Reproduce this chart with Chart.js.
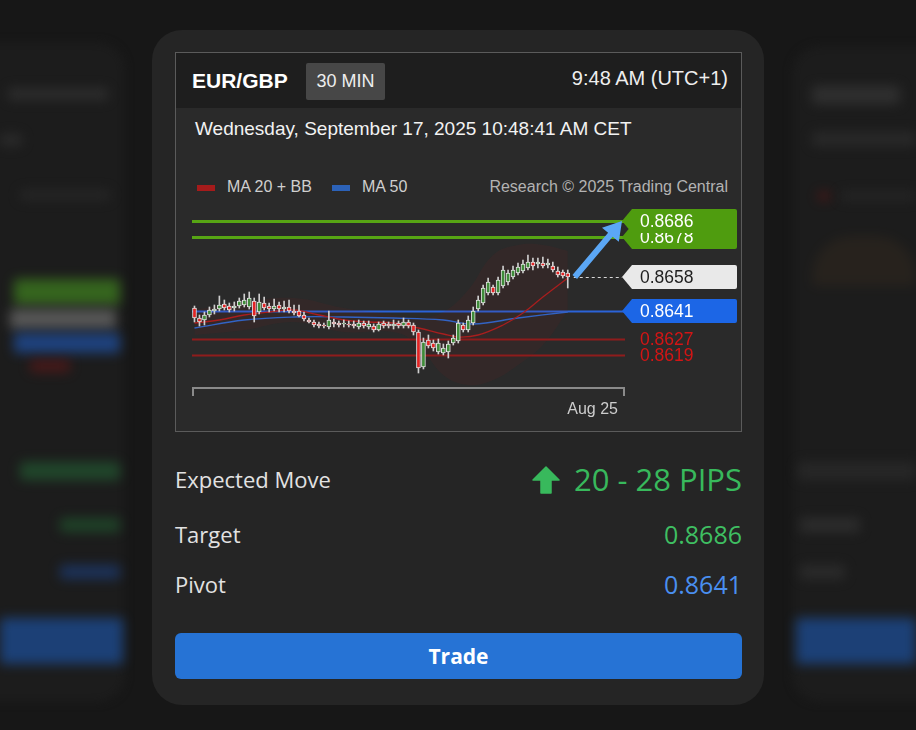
<!DOCTYPE html>
<html><head><meta charset="utf-8">
<script src="https://cdn.jsdelivr.net/npm/chart.js@4.4.1/dist/chart.umd.min.js"></script>
<style>
html,body{margin:0;padding:0;}
body{width:916px;height:730px;background:#171717;position:relative;overflow:hidden;font-family:"Liberation Sans",Arial,sans-serif;}
.abs{position:absolute;white-space:nowrap;}
.side{background:#1c1c1c;border-radius:28px;filter:blur(4px);}
.bl{position:absolute;filter:blur(6px);border-radius:3px;opacity:0.75;}
#card{left:152px;top:30px;width:612px;height:675px;border-radius:30px;background:#252525;}
#frame{left:175px;top:52px;width:567px;height:380px;box-sizing:border-box;border:1px solid #5b5b5b;background:#2a2a2a;}
#head{left:176px;top:53px;width:565px;height:55px;background:#1e1e1e;}
.os{font-family:"Open Sans","Noto Sans",sans-serif;}
</style></head>
<body>
<!-- blurred neighbour cards -->
<div class="abs side" style="left:-60px;top:42px;width:185px;height:660px;"></div>
<div class="bl" style="left:8px;top:88px;width:100px;height:12px;background:#333"></div>
<div class="bl" style="left:0px;top:134px;width:22px;height:12px;background:#303030"></div>
<div class="bl" style="left:20px;top:190px;width:90px;height:10px;background:#2a2a2a"></div>
<div class="bl" style="left:14px;top:279px;width:106px;height:26px;background:#3e7d1f"></div>
<div class="bl" style="left:10px;top:309px;width:106px;height:20px;background:#6a6a6a"></div>
<div class="bl" style="left:14px;top:333px;width:106px;height:20px;background:#1f4f9f"></div>
<div class="bl" style="left:30px;top:360px;width:40px;height:12px;background:#5a1818"></div>
<div class="bl" style="left:20px;top:462px;width:100px;height:18px;background:#225530"></div>
<div class="bl" style="left:60px;top:518px;width:60px;height:14px;background:#20502c"></div>
<div class="bl" style="left:60px;top:565px;width:60px;height:14px;background:#1c3a70"></div>
<div class="bl" style="left:0px;top:618px;width:123px;height:46px;background:#1c4d95"></div>

<div class="abs side" style="left:792px;top:46px;width:180px;height:656px;"></div>
<div class="bl" style="left:812px;top:86px;width:88px;height:18px;background:#363636"></div>
<div class="bl" style="left:812px;top:132px;width:104px;height:14px;background:#2e2e2e"></div>
<div class="bl" style="left:818px;top:192px;width:12px;height:8px;background:#5a1515"></div>
<div class="bl" style="left:840px;top:192px;width:76px;height:8px;background:#2a2a2a"></div>
<div class="bl" style="left:812px;top:236px;width:104px;height:50px;background:rgba(110,80,40,0.18);border-radius:40px 40px 0 0;"></div>
<div class="bl" style="left:798px;top:462px;width:118px;height:18px;background:#2b2b2b"></div>
<div class="bl" style="left:800px;top:518px;width:60px;height:14px;background:#333"></div>
<div class="bl" style="left:800px;top:565px;width:45px;height:14px;background:#303030"></div>
<div class="bl" style="left:796px;top:618px;width:120px;height:46px;background:#1c4d95"></div>

<div class="abs" id="card"></div>
<div class="abs" id="frame"></div>
<div class="abs" id="head"></div>

<div class="abs" style="left:192px;top:69px;font-size:21px;line-height:24px;font-weight:bold;color:#fff;">EUR/GBP</div>
<div class="abs" style="left:306px;top:63px;width:79px;height:37px;background:#474747;border-radius:2px;color:#eee;font-size:18px;line-height:37px;text-align:center;">30 MIN</div>
<div class="abs" style="right:188px;top:66px;font-size:20px;line-height:24px;color:#eee;">9:48 AM (UTC+1)</div>
<div class="abs" style="left:195px;top:117px;font-size:19px;line-height:24px;color:#f2f2f2;">Wednesday, September 17, 2025 10:48:41 AM CET</div>

<div class="abs" style="left:197px;top:185px;width:18px;height:6px;background:#a51b1b;"></div>
<div class="abs" style="left:227px;top:177px;font-size:16px;line-height:20px;color:#cfcfcf;">MA 20 + BB</div>
<div class="abs" style="left:332px;top:185px;width:18px;height:6px;background:#2c62b8;"></div>
<div class="abs" style="left:362px;top:177px;font-size:16px;line-height:20px;color:#cfcfcf;">MA 50</div>
<div class="abs" style="right:188px;top:177px;font-size:16px;line-height:20px;color:#b3b3b3;">Research © 2025 Trading Central</div>

<canvas id="c" class="abs" width="567" height="323" style="left:175px;top:108px;width:567px;height:323px;"></canvas>

<div class="abs os" style="left:175px;top:464px;font-size:22px;line-height:30px;color:#e2e2e2;">Expected Move</div>
<svg class="abs" style="left:531px;top:466px;" width="30" height="28" viewBox="0 0 30 28"><path d="M15 1 L28 14 L20 14 L20 27 L10 27 L10 14 L2 14 Z" fill="#38b95c" stroke="#38b95c" stroke-width="1.5" stroke-linejoin="round"/></svg>
<div class="abs os" style="right:174px;top:459px;font-size:31px;line-height:40px;font-weight:500;color:#38b95c;">20 - 28 PIPS</div>
<div class="abs os" style="left:175px;top:519px;font-size:22px;line-height:30px;color:#e2e2e2;">Target</div>
<div class="abs os" style="right:174px;top:517px;font-size:25px;line-height:34px;color:#3fbf62;">0.8686</div>
<div class="abs os" style="left:175px;top:569px;font-size:22px;line-height:30px;color:#e2e2e2;">Pivot</div>
<div class="abs os" style="right:174px;top:567px;font-size:25px;line-height:34px;color:#4a8ff0;">0.8641</div>
<div class="abs os" style="left:175px;top:633px;width:567px;height:46px;border-radius:6px;background:#2673d5;color:#fff;font-weight:bold;font-size:21px;line-height:46px;text-align:center;">Trade</div>

<script>
// ---- data ----
const slotCount = 87;
const dateTickIndex = [80];
const dateTickText = ['Aug 25'];
const opens = [
 0.86425,0.86375,0.86365,0.8639,0.8641,0.8642,0.86445,0.86435,0.86425,0.86435,
 0.8644,0.8643,0.8646,0.86405,0.8645,0.86435,0.8642,0.8644,0.8642,0.8643,
 0.8641,0.8641,0.8639,0.86365,0.86355,0.86345,0.8634,0.8633,0.86355,0.8635,
 0.86345,0.86345,0.86345,0.8633,0.8635,0.8633,0.86335,0.86315,0.8635,0.86345,
 0.86335,0.8635,0.86335,0.86355,0.8634,0.86305,0.8613,0.86265,0.8625,0.86205,
 0.862,0.86205,0.8625,0.8626,0.8634,0.86315,0.8635,0.8642,0.8645,0.865,
 0.8653,0.865,0.86535,0.86555,0.8658,0.866,0.8661,0.86625,0.86655,0.86645,
 0.8665,0.8664,0.86635,0.8661,0.86605,0.866];
const highs = [
 0.86435,0.8639,0.86405,0.8643,0.8644,0.86485,0.86465,0.8645,0.86455,0.86475,
 0.86495,0.86505,0.86475,0.86495,0.8648,0.8645,0.8647,0.86455,0.8646,0.86465,
 0.8644,0.8644,0.86405,0.86375,0.86365,0.86355,0.8635,0.8641,0.8637,0.8636,
 0.86365,0.8636,0.8636,0.86365,0.8636,0.8636,0.86345,0.86355,0.8636,0.86355,
 0.86365,0.8636,0.86375,0.86365,0.8635,0.86315,0.86275,0.8629,0.86265,0.8627,
 0.86245,0.8626,0.8629,0.86365,0.8635,0.86385,0.8643,0.86485,0.8654,0.86575,
 0.8654,0.8658,0.86635,0.86615,0.86635,0.8665,0.86665,0.8669,0.86675,0.86675,
 0.8668,0.8667,0.86655,0.8663,0.86615,0.86615];
const lows = [
 0.86355,0.86335,0.8634,0.8638,0.86395,0.8641,0.86415,0.86405,0.8641,0.86425,
 0.8643,0.8642,0.86355,0.86395,0.86415,0.86405,0.8641,0.86405,0.86405,0.864,
 0.8639,0.8638,0.8636,0.8635,0.8633,0.86325,0.86325,0.8632,0.8633,0.8633,
 0.8633,0.8633,0.86325,0.8632,0.86325,0.8632,0.86305,0.8631,0.86325,0.86325,
 0.8632,0.86325,0.86325,0.86325,0.8629,0.861,0.8612,0.86225,0.8621,0.86195,
 0.8619,0.86175,0.8624,0.8625,0.86305,0.86305,0.8634,0.8641,0.8644,0.8649,
 0.8649,0.8649,0.86525,0.8654,0.8657,0.8659,0.866,0.86615,0.86615,0.86625,
 0.86625,0.86625,0.86605,0.8658,0.86575,0.86525];
const closes = [
 0.86375,0.86355,0.8639,0.86415,0.8642,0.8644,0.86425,0.86415,0.86435,0.8646,
 0.86465,0.86475,0.86385,0.86455,0.86425,0.8642,0.86435,0.8642,0.8643,0.8641,
 0.864,0.86385,0.8637,0.86355,0.8634,0.86335,0.86335,0.86365,0.86345,0.8634,
 0.8635,0.8634,0.86335,0.8635,0.86335,0.86345,0.86315,0.86345,0.86335,0.86335,
 0.86345,0.86335,0.86355,0.86335,0.86305,0.86125,0.86255,0.86235,0.86225,0.8625,
 0.86225,0.86245,0.86275,0.8635,0.86315,0.86365,0.8641,0.86465,0.86525,0.86555,
 0.865,0.86565,0.86615,0.866,0.86615,0.8663,0.86645,0.86655,0.86635,0.86655,
 0.86635,0.8665,0.86615,0.8659,0.86585,0.8658];
const ma50Idx = [0,10,20,30,40,50,56,65,75];
const ma50Val = [0.86325,0.86365,0.8638,0.8638,0.86375,0.86365,0.86345,0.86375,0.86405];
const ma20Idx = [0,5,10,15,20,25,30,35,40,45,50,53,57,62,66,70,75];
const ma20Val = [0.8635,0.86365,0.8639,0.86405,0.86415,0.8639,0.86365,0.86355,0.8635,0.86325,0.86295,0.8628,0.8629,0.8634,0.864,0.8648,0.86575];
const bbIdx = [0,10,20,30,40,45,50,55,60,65,70,75];
const bbUpper = [0.86415,0.86455,0.86475,0.86425,0.8639,0.86375,0.86405,0.86515,0.8669,0.8674,0.8674,0.8671];
const bbLower = [0.8629,0.86315,0.86355,0.86305,0.86305,0.8624,0.8609,0.8604,0.86065,0.8614,0.8624,0.8641];
const levelValues = [0.8686, 0.8678, 0.8658, 0.8641, 0.8627, 0.8619];
const levelTexts = ['0.8686', '0.8678', '0.8658', '0.8641', '0.8627', '0.8619'];
const levelRoles = ['target', 'target', 'last', 'pivot', 'support', 'support'];

// ---- build ----
const labels = Array.from({length: slotCount}, (_, i) => i);
const sparse = (idx, vals) => { const a = labels.map(() => null); idx.forEach((k, j) => { a[k] = vals[j]; }); return a; };
const isUp = closes.map((c, i) => c >= opens[i]);

const levelStyle = {
  target: {line: '#57a514', tag: '#4f9c0f', text: '#ffffff', width: 3},
  last: {tag: '#e9e9e9', text: '#1e1e1e'},
  pivot: {line: '#2b63d8', tag: '#1c66e6', text: '#ffffff', width: 2},
  support: {line: '#8f1c1c', text: '#d31515', width: 2}
};

const overlay = {
  id: 'overlay',
  beforeDatasetsDraw(chart) {
    const {ctx, chartArea: a, scales: {y}} = chart;
    ctx.save();
    levelValues.forEach((v, i) => {
      const st = levelStyle[levelRoles[i]];
      if (!st.line) return;
      const py = Math.round(y.getPixelForValue(v)) + 0.5;
      ctx.strokeStyle = st.line; ctx.lineWidth = st.width;
      ctx.beginPath(); ctx.moveTo(a.left, py); ctx.lineTo(a.right, py); ctx.stroke();
    });
    ctx.restore();
  },
  afterDraw(chart) {
    const {ctx, chartArea: a, scales: {x, y}} = chart;
    ctx.save();
    // axis bracket
    ctx.strokeStyle = '#8a8a8a'; ctx.lineWidth = 2;
    ctx.beginPath();
    ctx.moveTo(a.left + 1, a.bottom + 9); ctx.lineTo(a.left + 1, a.bottom + 1);
    ctx.lineTo(a.right - 1, a.bottom + 1); ctx.lineTo(a.right - 1, a.bottom + 9);
    ctx.stroke();
    // last price dashed line
    const last = opens.length - 1;
    const lx = x.getPixelForValue(last);
    const lastIdx = levelRoles.indexOf('last');
    const ly = Math.round(y.getPixelForValue(levelValues[lastIdx])) + 0.5;
    ctx.strokeStyle = '#d8d8d8'; ctx.lineWidth = 1; ctx.setLineDash([3, 3]);
    ctx.beginPath(); ctx.moveTo(lx + 6, ly); ctx.lineTo(a.right - 3, ly); ctx.stroke();
    ctx.setLineDash([]);
    // arrow
    const sx = lx + 7, sy = y.getPixelForValue(closes[last]);
    const tx = a.right - 3, ty = y.getPixelForValue(levelValues[0]);
    const ang = Math.atan2(ty - sy, tx - sx), len = Math.hypot(tx - sx, ty - sy);
    ctx.save(); ctx.translate(sx, sy); ctx.rotate(ang);
    ctx.fillStyle = '#5ba7f5';
    ctx.beginPath();
    ctx.moveTo(0, -3); ctx.lineTo(len - 18, -3); ctx.lineTo(len - 18, -11); ctx.lineTo(len, 0);
    ctx.lineTo(len - 18, 11); ctx.lineTo(len - 18, 3); ctx.lineTo(0, 3); ctx.closePath(); ctx.fill();
    ctx.restore();
    // tags
    const tipX = a.right - 3, bodyX = tipX + 10, rightX = a.right + 112, h = 24;
    ctx.font = '17.5px "Liberation Sans", Arial, sans-serif';
    ctx.textBaseline = 'middle'; ctx.textAlign = 'left';
    for (let i = levelValues.length - 1; i >= 0; i--) {
      const st = levelStyle[levelRoles[i]];
      const py = y.getPixelForValue(levelValues[i]);
      if (st.tag) {
        ctx.fillStyle = st.tag;
        ctx.beginPath();
        ctx.moveTo(tipX, py); ctx.lineTo(bodyX, py - h / 2);
        ctx.lineTo(rightX - 2, py - h / 2); ctx.quadraticCurveTo(rightX, py - h / 2, rightX, py - h / 2 + 2);
        ctx.lineTo(rightX, py + h / 2 - 2); ctx.quadraticCurveTo(rightX, py + h / 2, rightX - 2, py + h / 2);
        ctx.lineTo(bodyX, py + h / 2); ctx.closePath(); ctx.fill();
      }
      ctx.fillStyle = st.text;
      ctx.fillText(levelTexts[i], tipX + 18, py + 1);
    }
    ctx.restore();
  }
};

new Chart(document.getElementById('c'), {
  type: 'bar',
  data: {
    labels,
    datasets: [
      {type: 'line', label: 'BB upper', data: sparse(bbIdx, bbUpper), borderColor: 'rgba(0,0,0,0)', borderWidth: 0, pointRadius: 0, tension: 0.4, spanGaps: true, fill: false, order: 6},
      {type: 'line', label: 'BB lower', data: sparse(bbIdx, bbLower), borderColor: 'rgba(0,0,0,0)', borderWidth: 0, pointRadius: 0, tension: 0.4, spanGaps: true, fill: '-1', backgroundColor: 'rgba(140,25,25,0.10)', order: 6},
      {type: 'line', label: 'MA 50', data: sparse(ma50Idx, ma50Val), borderColor: '#3263c4', borderWidth: 1.3, pointRadius: 0, tension: 0.4, spanGaps: true, order: 5},
      {type: 'line', label: 'MA 20', data: sparse(ma20Idx, ma20Val), borderColor: '#a81e1e', borderWidth: 1.3, pointRadius: 0, tension: 0.4, spanGaps: true, order: 4},
      {label: 'wick', data: lows.map((l, i) => [l, highs[i]]), backgroundColor: '#cfcfcf', barThickness: 1, grouped: false, order: 3},
      {label: 'body', data: opens.map((o, i) => [o, closes[i]]), backgroundColor: isUp.map(u => u ? '#3f8c39' : '#e42424'), borderColor: '#e2e2e2', borderWidth: 1, borderSkipped: false, barThickness: 4, grouped: false, order: 2}
    ]
  },
  options: {
    responsive: false, animation: false, devicePixelRatio: 1, events: [],
    layout: {padding: {left: 17, right: 117, top: 97, bottom: 0}},
    plugins: {legend: {display: false}, tooltip: {enabled: false}},
    scales: {
      x: {
        grid: {display: false, drawTicks: false}, border: {display: false},
        ticks: {autoSkip: false, maxRotation: 0, padding: 13, color: '#cdcdcd', font: {family: '"Liberation Sans", Arial, sans-serif', size: 16},
          callback: (v, i) => { const k = dateTickIndex.indexOf(i); return k >= 0 ? dateTickText[k] : ''; }},
        afterFit: s => { s.height = 44; }
      },
      y: {display: false, min: 0.8603, max: 0.8694}
    }
  },
  plugins: [overlay]
});
</script>
</body></html>
